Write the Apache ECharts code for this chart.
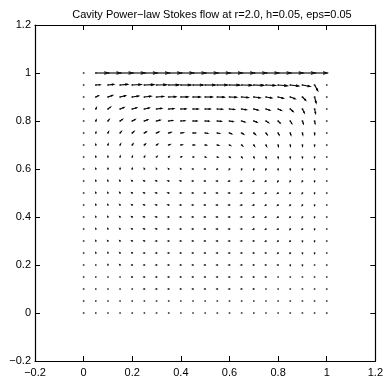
<!DOCTYPE html>
<html><head><meta charset="utf-8">
<script src="https://cdn.jsdelivr.net/npm/echarts@6/dist/echarts.min.js"></script>
<style>html,body{margin:0;padding:0;background:#fff}#c{width:386px;height:384px}</style>
</head><body><div id="c"></div>
<script>
const chartTitle = 'Cavity Power\u2212law Stokes flow at r=2.0, h=0.05, eps=0.05';
const xs = [0,0.05,0.1,0.15,0.2,0.25,0.3,0.35,0.4,0.45,0.5,0.55,0.6,0.65,0.7,0.75,0.8,0.85,0.9,0.95,1];
const ys = [1,0.95,0.9,0.85,0.8,0.75,0.7,0.65,0.6,0.55,0.5,0.45,0.4,0.35,0.3,0.25,0.2,0.15,0.1,0.05,0];
const xTicks = [-0.2,0,0.2,0.4,0.6,0.8,1,1.2];
const yTicks = [-0.2,0,0.2,0.4,0.6,0.8,1,1.2];
// horizontal velocity, one row per ys entry (top to bottom)
const U = [
 [0,1,1,1,1,1,1,1,1,1,1,1,1,1,1,1,1,1,1,1,0],
 [0,.34,.45,.6,.7,.75,.78,.8,.8,.8,.8,.8,.8,.8,.78,.75,.72,.66,.6,.25,0],
 [0,.2,.36,.42,.5,.52,.55,.56,.56,.56,.56,.55,.55,.53,.5,.45,.4,.38,.25,.12,0],
 [0,.05,.2,.3,.35,.38,.4,.4,.4,.4,.4,.4,.38,.36,.33,.3,.25,.22,.15,.08,0],
 [0,.03,.1,.18,.22,.25,.28,.3,.3,.3,.3,.3,.28,.26,.24,.2,.16,.12,.08,.04,0],
 [0,.01,.05,.1,.13,.15,.17,.18,.19,.19,.19,.18,.17,.15,.13,.1,.08,.05,.03,.01,0],
 [0,0,.02,.04,.06,.08,.09,.1,.1,.1,.1,.1,.09,.08,.06,.05,.03,.02,.01,0,0],
 [0,0,0,.01,.02,.02,.03,.03,.03,.04,.04,.04,.04,.03,.02,.01,.01,0,0,0,0],
 [0,0,0,0,0,-.01,-.01,-.01,-.01,-.01,-.01,-.01,-.01,-.01,-.01,-.01,0,0,0,0,0],
 [0,0,-.01,-.02,-.03,-.03,-.04,-.04,-.04,-.04,-.04,-.04,-.04,-.04,-.03,-.03,-.02,-.01,-.01,0,0],
 [0,0,-.01,-.02,-.03,-.04,-.04,-.05,-.05,-.05,-.05,-.05,-.05,-.04,-.04,-.03,-.03,-.02,-.01,0,0],
 [0,0,-.01,-.02,-.03,-.04,-.04,-.05,-.05,-.05,-.05,-.05,-.05,-.04,-.04,-.03,-.03,-.02,-.01,0,0],
 [0,0,-.01,-.02,-.03,-.04,-.04,-.04,-.05,-.05,-.05,-.05,-.04,-.04,-.04,-.03,-.03,-.02,-.01,0,0],
 [0,0,-.01,-.02,-.02,-.03,-.03,-.04,-.04,-.04,-.04,-.04,-.04,-.03,-.03,-.02,-.02,-.01,-.01,0,0],
 [0,0,-.01,-.01,-.02,-.02,-.03,-.03,-.03,-.03,-.03,-.03,-.03,-.03,-.02,-.02,-.01,-.01,0,0,0],
 [0,0,0,-.01,-.01,-.02,-.02,-.02,-.02,-.02,-.02,-.02,-.02,-.02,-.02,-.01,-.01,-.01,0,0,0],
 [0,0,0,-.01,-.01,-.01,-.02,-.02,-.02,-.02,-.02,-.02,-.02,-.02,-.01,-.01,-.01,0,0,0,0],
 [0,0,0,0,-.01,-.01,-.01,-.01,-.01,-.01,-.01,-.01,-.01,-.01,-.01,-.01,0,0,0,0,0],
 [0,0,0,0,0,-.01,-.01,-.01,-.01,-.01,-.01,-.01,-.01,-.01,-.01,0,0,0,0,0,0],
 [0,0,0,0,0,0,0,0,0,0,0,0,0,0,0,0,0,0,0,0,0],
 [0,0,0,0,0,0,0,0,0,0,0,0,0,0,0,0,0,0,0,0,0]
];
// vertical velocity, same layout
const V = [
 [0,0,0,0,0,0,0,0,0,0,0,0,0,0,0,0,0,0,0,0,0],
 [0,.02,.05,.05,.04,.03,.02,.01,0,0,0,0,-.01,-.02,-.03,-.04,-.06,-.08,-.12,-.45,0],
 [0,.1,.13,.1,.08,.06,.04,.02,.01,0,0,-.01,-.02,-.04,-.06,-.08,-.1,-.14,-.26,-.47,0],
 [0,.1,.15,.12,.1,.08,.05,.03,.01,0,0,-.02,-.04,-.06,-.08,-.1,-.12,-.2,-.3,-.35,0],
 [0,.08,.12,.13,.12,.1,.07,.04,.02,0,-.01,-.03,-.05,-.08,-.1,-.13,-.16,-.2,-.22,-.2,0],
 [0,.06,.1,.12,.12,.1,.08,.05,.02,0,-.02,-.04,-.07,-.1,-.12,-.14,-.15,-.16,-.15,-.12,0],
 [0,.04,.07,.08,.09,.08,.06,.04,.02,0,-.01,-.03,-.05,-.07,-.09,-.1,-.11,-.1,-.09,-.06,0],
 [0,.03,.05,.06,.06,.05,.04,.03,.01,0,-.01,-.02,-.03,-.05,-.06,-.07,-.07,-.06,-.05,-.03,0],
 [0,.02,.03,.04,.04,.03,.02,.01,.01,0,0,-.01,-.02,-.03,-.04,-.04,-.04,-.04,-.03,-.02,0],
 [0,.02,.03,.03,.03,.02,.02,.01,.01,0,0,0,-.01,-.01,-.02,-.02,-.03,-.03,-.03,-.02,0],
 [0,.02,.02,.03,.02,.02,.01,.01,0,0,0,0,0,-.01,-.01,-.02,-.02,-.02,-.02,-.01,0],
 [0,.02,.02,.02,.02,.02,.01,.01,0,0,0,0,0,-.01,-.01,-.02,-.02,-.02,-.02,-.01,0],
 [0,.01,.02,.02,.02,.01,.01,0,0,0,0,0,0,0,-.01,-.01,-.02,-.02,-.02,-.01,0],
 [0,.01,.02,.02,.01,.01,.01,0,0,0,0,0,0,0,-.01,-.01,-.01,-.02,-.01,-.01,0],
 [0,.01,.01,.01,.01,.01,0,0,0,0,0,0,0,0,0,-.01,-.01,-.01,-.01,-.01,0],
 [0,.01,.01,.01,.01,0,0,0,0,0,0,0,0,0,0,0,-.01,-.01,-.01,-.01,0],
 [0,0,.01,.01,0,0,0,0,0,0,0,0,0,0,0,0,0,-.01,-.01,0,0],
 [0,0,0,0,0,0,0,0,0,0,0,0,0,0,0,0,0,0,0,0,0],
 [0,0,0,0,0,0,0,0,0,0,0,0,0,0,0,0,0,0,0,0,0],
 [0,0,0,0,0,0,0,0,0,0,0,0,0,0,0,0,0,0,0,0,0],
 [0,0,0,0,0,0,0,0,0,0,0,0,0,0,0,0,0,0,0,0,0]
];

const S = 0.052;      // quiver display scale
const HA = 0.33, HB = 0.3;
const data = [];
ys.forEach((y, j) => xs.forEach((x, i) => data.push([x, y, U[j][i], V[j][i]])));

const fmt = v => {
  const s = String(Math.round(v * 10) / 10);
  return s.replace('-', '\u2212');
};
const font = 'Liberation Sans, Arial, Helvetica, sans-serif';
const axisCommon = {
  type: 'value', min: -0.2, max: 1.2, interval: 0.2,
  axisLine: {show: true, onZero: false, lineStyle: {color: '#000', width: 1.2}},
  axisTick: {show: true, inside: true, length: 5, lineStyle: {color: '#000'}},
  splitLine: {show: false}
};
const chart = echarts.init(document.getElementById('c'), null, {renderer: 'canvas'});
chart.setOption({
  animation: false,
  backgroundColor: '#fff',
  title: {text: chartTitle, left: 207, top: 4, textAlign: 'center',
    textStyle: {fontFamily: font, fontSize: 11, fontWeight: 'normal', color: '#000'}},
  grid: {left: 35, right: 7, top: 25, bottom: 23, containLabel: false},
  xAxis: [
    Object.assign({}, axisCommon, {position: 'bottom',
      axisLabel: {formatter: fmt, color: '#000', fontFamily: font, fontSize: 11, margin: 6}}),
    Object.assign({}, axisCommon, {position: 'top', axisLabel: {show: false}})
  ],
  yAxis: [
    Object.assign({}, axisCommon, {position: 'left',
      axisLabel: {formatter: fmt, color: '#000', fontFamily: font, fontSize: 11, margin: 4}}),
    Object.assign({}, axisCommon, {position: 'right', axisLabel: {show: false}})
  ],
  series: [{
    type: 'custom',
    xAxisIndex: 0, yAxisIndex: 0,
    data: data,
    clip: false,
    renderItem: function (params, api) {
      const x = api.value(0), y = api.value(1);
      const uu = S * api.value(2), vv = S * api.value(3);
      const b = api.coord([x, y]);
      const t = api.coord([x + uu, y + vv]);
      const h1 = api.coord([x + uu - HA * (uu + HB * vv), y + vv - HA * (vv - HB * uu)]);
      const h2 = api.coord([x + uu - HA * (uu - HB * vv), y + vv - HA * (vv + HB * uu)]);
      const st = {stroke: '#000', lineWidth: 1.1, fill: null};
      const children = [
        {type: 'rect', shape: {x: b[0] - 0.8, y: b[1] - 0.8, width: 1.6, height: 1.6}, style: {fill: '#333'}}
      ];
      if (Math.abs(uu) + Math.abs(vv) > 1e-9) {
        children.push({type: 'polyline', shape: {points: [b, t]}, style: st});
        children.push({type: 'polyline', shape: {points: [h1, t, h2]}, style: st});
      }
      return {type: 'group', children: children};
    }
  }]
});
</script>
</body></html>
